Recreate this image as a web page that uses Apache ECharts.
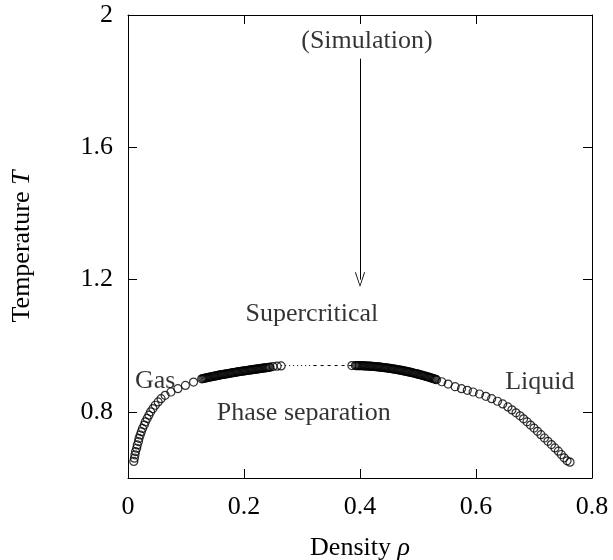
<!DOCTYPE html>
<html>
<head>
<meta charset="utf-8">
<script src="https://cdn.jsdelivr.net/npm/echarts@6/dist/echarts.min.js"></script>
<style>
  html, body { margin: 0; padding: 0; background: #fff; }
  #main { width: 613px; height: 560px; }
</style>
</head>
<body>
<div id="main"></div>
<script>
// 刻度
var xTicks = [0, 0.2, 0.4, 0.6, 0.8];
var yTicks = [0.8, 1.2, 1.6, 2];

// 气相分支（密度, 温度）
var gasRho = [0.010, 0.011, 0.012, 0.013, 0.015, 0.016, 0.018, 0.019, 0.021, 0.023,
  0.025, 0.028, 0.030, 0.033, 0.036, 0.039, 0.043, 0.047, 0.052, 0.057,
  0.064, 0.074, 0.086, 0.099, 0.113,
  0.127, 0.129, 0.131, 0.133, 0.135, 0.137, 0.139, 0.141, 0.143, 0.145,
  0.147, 0.149, 0.151, 0.153, 0.155, 0.157, 0.159, 0.161, 0.163, 0.165,
  0.167, 0.169, 0.171, 0.173, 0.175, 0.177, 0.179, 0.181, 0.183, 0.185,
  0.187, 0.189, 0.191, 0.193, 0.195, 0.197, 0.199, 0.201, 0.203, 0.205,
  0.207, 0.209, 0.211, 0.213, 0.215, 0.217, 0.219, 0.221, 0.223, 0.225,
  0.227, 0.229, 0.231, 0.233, 0.235, 0.237, 0.239, 0.241, 0.243, 0.245,
  0.250, 0.257, 0.264];
var gasT = [0.650, 0.660, 0.670, 0.680, 0.690, 0.700, 0.710, 0.720, 0.730, 0.740,
  0.750, 0.760, 0.770, 0.780, 0.790, 0.800, 0.810, 0.820, 0.830, 0.840,
  0.850, 0.860, 0.870, 0.880, 0.890,
  0.9000, 0.9007, 0.9015, 0.9022, 0.9029, 0.9036, 0.9044, 0.9051, 0.9058, 0.9065,
  0.9073, 0.9080, 0.9087, 0.9095, 0.9102, 0.9109, 0.9116, 0.9123, 0.9129, 0.9135,
  0.9141, 0.9147, 0.9153, 0.9159, 0.9165, 0.9172, 0.9178, 0.9184, 0.9190, 0.9196,
  0.9202, 0.9208, 0.9214, 0.9220, 0.9225, 0.9230, 0.9236, 0.9241, 0.9246, 0.9251,
  0.9256, 0.9261, 0.9267, 0.9272, 0.9277, 0.9282, 0.9287, 0.9292, 0.9297, 0.9302,
  0.9307, 0.9312, 0.9317, 0.9322, 0.9327, 0.9332, 0.9337, 0.9342, 0.9347, 0.9352,
  0.937, 0.938, 0.939];

// 液相分支（密度, 温度）
var liqRho = [0.386,
  0.392, 0.394, 0.396, 0.398, 0.400, 0.402, 0.404, 0.406, 0.408, 0.410,
  0.412, 0.414, 0.416, 0.418, 0.420, 0.422, 0.424, 0.426, 0.428, 0.430,
  0.432, 0.434, 0.436, 0.438, 0.440, 0.442, 0.444, 0.446, 0.448, 0.450,
  0.452, 0.454, 0.456, 0.458, 0.460, 0.462, 0.464, 0.466, 0.468, 0.470,
  0.472, 0.474, 0.476, 0.478, 0.480, 0.482, 0.484, 0.486, 0.488, 0.490,
  0.492, 0.494, 0.496, 0.498, 0.500, 0.502, 0.504, 0.506, 0.508, 0.510,
  0.512, 0.514, 0.516, 0.518, 0.520, 0.522, 0.524, 0.526, 0.528, 0.530, 0.532,
  0.541, 0.552, 0.564, 0.575, 0.585, 0.595, 0.606, 0.617, 0.627, 0.637,
  0.646, 0.655, 0.662, 0.669, 0.676, 0.682, 0.688, 0.694, 0.700, 0.706,
  0.712, 0.718, 0.724, 0.730, 0.736, 0.742, 0.747, 0.752, 0.757, 0.762];
var liqT = [0.940,
  0.9399, 0.9399, 0.9398, 0.9397, 0.9396, 0.9395, 0.9394, 0.9392, 0.9390, 0.9388,
  0.9386, 0.9384, 0.9382, 0.9380, 0.9377, 0.9374, 0.9371, 0.9368, 0.9365, 0.9361,
  0.9358, 0.9354, 0.9350, 0.9346, 0.9342, 0.9337, 0.9333, 0.9328, 0.9323, 0.9318,
  0.9313, 0.9308, 0.9302, 0.9296, 0.9290, 0.9284, 0.9278, 0.9272, 0.9266, 0.9259,
  0.9252, 0.9245, 0.9238, 0.9231, 0.9223, 0.9216, 0.9208, 0.9200, 0.9192, 0.9184,
  0.9175, 0.9167, 0.9158, 0.9149, 0.9140, 0.9131, 0.9122, 0.9112, 0.9102, 0.9092,
  0.9082, 0.9072, 0.9062, 0.9052, 0.9041, 0.9030, 0.9019, 0.9008, 0.8997, 0.8985, 0.8974,
  0.891, 0.884, 0.876, 0.870, 0.865, 0.860, 0.854, 0.847, 0.840, 0.832,
  0.824, 0.815, 0.806, 0.797, 0.788, 0.779, 0.770, 0.760, 0.751, 0.741,
  0.731, 0.721, 0.711, 0.701, 0.691, 0.681, 0.671, 0.661, 0.652, 0.648];

// 两相之间的连接线
var dottedRho = [0.264, 0.320];
var dashedRho = [0.320, 0.386];
var gapT = 0.940;

// 文字标注
var noteText = ['(Simulation)', 'Supercritical', 'Gas', 'Phase separation', 'Liquid'];
var noteRho = [0.412, 0.317, 0.047, 0.303, 0.710];
var noteT = [1.921, 1.095, 0.893, 0.797, 0.890];

// 箭头
var arrowRho = 0.4;
var arrowFrom = 1.868;
var arrowTo = 1.2;

var FONT = 'Liberation Serif';

function pairs(xs, ys) {
    var out = [];
    for (var i = 0; i < xs.length; i++) {
        out.push([xs[i], ys[i]]);
    }
    return out;
}

var notes = [];
for (var i = 0; i < noteText.length; i++) {
    notes.push({ value: [noteRho[i], noteT[i]], name: noteText[i] });
}

var circleStyle = {
    color: 'rgba(0,0,0,0)',
    borderColor: '#000',
    borderWidth: 1.2
};

var chart = echarts.init(document.getElementById('main'));
var tickStyle = { show: true, inside: true, length: 9, lineStyle: { color: '#000', width: 1 } };

var option = {
    animation: false,
    backgroundColor: '#fff',
    grid: { left: 128, right: 21, top: 15, bottom: 82, containLabel: false, outerBoundsMode: 'none' },
    xAxis: [{
        type: 'value',
        min: 0, max: 0.8,
        name: 'Density {i|ρ}',
        nameLocation: 'middle',
        nameGap: 57,
        nameTextStyle: {
            fontFamily: FONT, fontSize: 26, color: '#000',
            rich: { i: { fontFamily: FONT, fontSize: 26, fontStyle: 'italic', color: '#000' } }
        },
        axisLine: { show: true, onZero: false, lineStyle: { color: '#000', width: 1 } },
        axisTick: Object.assign({ customValues: xTicks }, tickStyle),
        axisLabel: { customValues: xTicks, margin: 16, fontFamily: FONT, fontSize: 26, color: '#000' },
        splitLine: { show: false }
    }, {
        type: 'value',
        position: 'top',
        min: 0, max: 0.8,
        axisLine: { show: true, onZero: false, lineStyle: { color: '#000', width: 1 } },
        axisTick: Object.assign({ customValues: xTicks }, tickStyle),
        axisLabel: { show: false },
        splitLine: { show: false }
    }],
    yAxis: [{
        type: 'value',
        min: 0.6, max: 2,
        name: 'Temperature {i|T}',
        nameLocation: 'middle',
        nameGap: 93,
        nameTextStyle: {
            fontFamily: FONT, fontSize: 26, color: '#000',
            rich: { i: { fontFamily: FONT, fontSize: 26, fontStyle: 'italic', color: '#000' } }
        },
        axisLine: { show: true, onZero: false, lineStyle: { color: '#000', width: 1 } },
        axisTick: Object.assign({ customValues: yTicks }, tickStyle),
        axisLabel: { customValues: yTicks, margin: 15, fontFamily: FONT, fontSize: 26, color: '#000' },
        splitLine: { show: false }
    }, {
        type: 'value',
        position: 'right',
        min: 0.6, max: 2,
        axisLine: { show: true, onZero: false, lineStyle: { color: '#000', width: 1 } },
        axisTick: Object.assign({ customValues: yTicks }, tickStyle),
        axisLabel: { show: false },
        splitLine: { show: false }
    }],
    series: [{
        type: 'line',
        data: pairs(dottedRho, [gapT, gapT]),
        symbol: 'none',
        lineStyle: { color: '#000', width: 1, type: [1, 3] },
        z: 1
    }, {
        type: 'line',
        data: pairs(dashedRho, [gapT, gapT]),
        symbol: 'none',
        lineStyle: { color: '#000', width: 1, type: [3, 4] },
        z: 1
    }, {
        name: 'gas',
        type: 'scatter',
        data: pairs(gasRho, gasT),
        symbol: 'circle',
        symbolSize: 8,
        itemStyle: circleStyle,
        z: 2
    }, {
        name: 'liquid',
        type: 'scatter',
        data: pairs(liqRho, liqT),
        symbol: 'circle',
        symbolSize: 8,
        itemStyle: circleStyle,
        z: 2
    }, {
        name: 'notes',
        type: 'scatter',
        data: notes,
        symbolSize: 0,
        itemStyle: { color: 'rgba(0,0,0,0)' },
        label: {
            show: true,
            position: 'inside',
            formatter: function (p) { return p.name; },
            fontFamily: FONT,
            fontSize: 26,
            color: '#000'
        },
        markLine: {
            silent: true,
            symbol: ['none', 'path://M0,0 L-5,14 L-4.2,14.4 L0,2.2 L4.2,14.4 L5,14 Z'],
            symbolSize: [10, 15],
            label: { show: false },
            lineStyle: { color: '#000', width: 1, type: 'solid' },
            data: [[{ coord: [arrowRho, arrowFrom] }, { coord: [arrowRho, arrowTo] }]]
        },
        z: 3
    }]
};

chart.setOption(option);
</script>
</body>
</html>
